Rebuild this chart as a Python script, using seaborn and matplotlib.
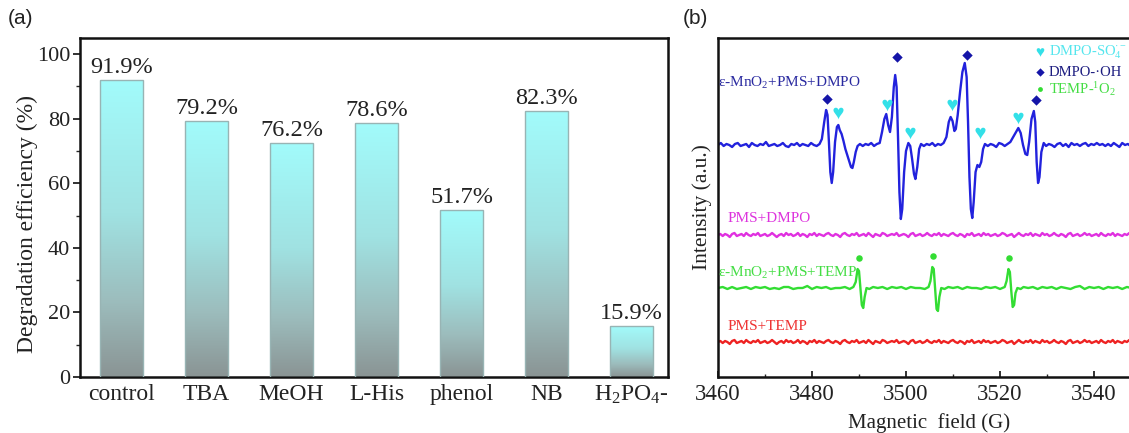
import numpy as np
import pandas as pd
import matplotlib
matplotlib.use("Agg")
import matplotlib.pyplot as plt
import seaborn as sns
from matplotlib.colors import LinearSegmentedColormap
from matplotlib.ticker import MultipleLocator

# ---------------- data: panel (a) ----------------
categories = ["control", "TBA", "MeOH", "L-His", "phenol", "NB", "H$_2$PO$_4$-"]
bar_values = [91.9, 79.2, 72.6, 78.6, 51.7, 82.3, 15.9]
bar_labels = ["91.9%", "79.2%", "76.2%", "78.6%", "51.7%", "82.3%", "15.9%"]

# ---------------- data: panel (b) (intensity in arbitrary units) ----------------
blue_x = [3460.0, 3460.6, 3461.2, 3461.8, 3462.4, 3463.0, 3463.6, 3464.2, 3464.8, 3465.4,
          3466.0, 3466.6, 3467.2, 3467.8, 3468.4, 3469.0, 3469.6, 3470.2, 3470.8, 3471.4,
          3472.0, 3472.6, 3473.2, 3473.8, 3474.4, 3475.0, 3475.6, 3476.2, 3476.8, 3477.4,
          3478.0, 3478.6, 3479.2, 3479.8, 3480.4, 3481.0, 3481.6, 3482.1, 3482.6, 3483.0,
          3483.3, 3483.6, 3483.9, 3484.2, 3484.5, 3484.9, 3485.3, 3485.6, 3485.9, 3486.3,
          3486.7, 3487.1, 3487.5, 3487.9, 3488.3, 3488.6, 3488.9, 3489.3, 3489.7, 3490.2,
          3490.8, 3491.4, 3492.0, 3492.6, 3493.2, 3493.8, 3494.4, 3494.9, 3495.4, 3495.8,
          3496.2, 3496.6, 3497.0, 3497.4, 3497.7, 3498.0, 3498.3, 3498.6, 3498.9, 3499.2,
          3499.6, 3500.0, 3500.5, 3500.9, 3501.3, 3501.7, 3502.0, 3502.4, 3502.8, 3503.2,
          3503.8, 3504.4, 3505.0, 3505.6, 3506.2, 3506.8, 3507.4, 3508.0, 3508.6, 3509.1,
          3509.5, 3509.9, 3510.3, 3510.6, 3511.0, 3511.5, 3512.0, 3512.5, 3512.9, 3513.2,
          3513.5, 3513.8, 3514.1, 3514.4, 3514.8, 3515.2, 3515.6, 3516.0, 3516.4, 3516.8,
          3517.4, 3518.0, 3518.6, 3519.2, 3519.8, 3520.4, 3521.0, 3521.6, 3522.2, 3522.8,
          3523.4, 3523.9, 3524.4, 3524.9, 3525.4, 3525.8, 3526.2, 3526.7, 3527.2, 3527.5,
          3527.8, 3528.1, 3528.4, 3528.8, 3529.3, 3529.8, 3530.4, 3531.0, 3531.6, 3532.2,
          3532.8, 3533.4, 3534.0, 3534.6, 3535.2, 3535.8, 3536.4, 3537.0, 3537.6, 3538.2,
          3538.8, 3539.4, 3540.0, 3540.6, 3541.2, 3541.8, 3542.4, 3543.0, 3543.6, 3544.2,
          3544.8, 3545.4, 3546.0, 3546.6, 3547.2, 3547.8, 3548.4, 3549.0, 3549.6]
blue_y = [232, 234, 231, 233, 232, 230, 233, 234, 231, 232,
          233, 230, 234, 232, 231, 233, 232, 235, 231, 232,
          233, 231, 232, 234, 231, 230, 233, 232, 234, 231,
          233, 232, 231, 234, 232, 231, 233, 238, 255, 267,
          262, 235, 205, 194, 205, 235, 250, 252, 247, 243,
          236, 228, 222, 216, 210, 209, 215, 225, 231, 233,
          231, 233, 232, 234, 231, 233, 234, 245, 258, 263,
          252, 245, 260, 290, 302, 290, 240, 185, 158, 168,
          205, 226, 234, 231, 218, 203, 198, 210, 228, 233,
          231, 233, 232, 234, 231, 233, 232, 234, 240, 255,
          260, 256, 246, 248, 262, 285, 305, 314, 300, 255,
          200, 168, 159, 175, 205, 212, 210, 215, 228, 233,
          231, 233, 232, 230, 234, 233, 231, 233, 235, 240,
          245, 249, 244, 232, 223, 222, 235, 258, 266, 255,
          215, 194, 200, 225, 234, 231, 233, 232, 230, 233,
          234, 231, 233, 230, 234, 232, 233, 231, 233, 234,
          231, 233, 232, 234, 232, 233, 231, 233, 231, 234,
          232, 230, 234, 232, 233, 231, 233, 232, 233]

magenta_y = [142, 143, 141, 143, 142, 140, 143, 144, 141, 142, 143, 141, 144, 142, 141, 143, 142, 144, 141, 142,
             143, 141, 142, 144, 142, 140, 142, 143, 141, 144, 142, 143, 141, 142, 144, 141, 143, 142, 140, 143,
             142, 144, 141, 143, 142, 141, 143, 144, 142, 141, 143, 142, 140, 143, 144, 142, 141, 143, 142, 144,
             141, 142, 143, 141, 144, 142, 140, 143, 142, 141, 144, 143, 141, 142, 143, 142, 144, 141, 142, 143,
             142, 140, 143, 144, 141, 142, 143, 141, 142, 144, 142, 141, 143, 142, 144, 141, 143, 142, 141, 143,
             144, 142, 141, 143, 142, 140, 143, 142, 144, 141, 142, 143, 141, 144, 142, 143, 141, 142, 143, 141,
             142, 144, 143, 141, 142, 143, 140, 142, 144, 142, 141, 143, 142, 144, 141, 143, 142, 141, 144, 142,
             143, 141, 142, 144, 142, 141, 143, 142, 140, 143, 144, 141, 142, 143, 141, 142, 144, 142, 143, 141,
             142, 143, 141, 144, 142, 141, 143, 142, 144, 141, 143, 142, 141, 143, 142, 144, 141, 142, 143, 142,
             141]

green_x = [3460, 3461, 3462, 3463, 3464, 3465, 3466, 3467, 3468, 3469, 3470, 3471, 3472,
           3473, 3474, 3475, 3476, 3477, 3478, 3479, 3480, 3481, 3482, 3483, 3484, 3485,
           3486, 3487, 3488, 3488.8, 3489.3, 3489.7, 3490.0, 3490.3, 3490.6, 3490.9, 3491.2,
           3491.6, 3492.2, 3493, 3494, 3495, 3496, 3497, 3498, 3499, 3500, 3501, 3502, 3503,
           3504, 3504.8, 3505.2, 3505.6, 3505.9, 3506.2, 3506.5, 3506.8, 3507.1, 3507.5,
           3508.2, 3509, 3510, 3511, 3512, 3513, 3514, 3515, 3516, 3517, 3518, 3519, 3520,
           3521, 3521.4, 3521.8, 3522.1, 3522.4, 3522.7, 3523.0, 3523.3, 3523.7, 3524.4,
           3525, 3526, 3527, 3528, 3529, 3530, 3531, 3532, 3533, 3534, 3535, 3536, 3537,
           3538, 3539, 3540, 3541, 3542, 3543, 3544, 3545, 3546, 3547, 3548, 3549, 3550]
green_y = [89, 90, 88, 90, 88, 89, 90, 88, 90, 89, 90, 88, 89,
           88, 90, 90, 88, 89, 89, 91, 88, 90, 89, 90, 88, 89,
           89, 90, 88, 90, 95, 108, 106, 89, 72, 69, 80,
           89, 88, 90, 89, 90, 88, 90, 89, 90, 88, 90, 89, 89,
           88, 90, 96, 110, 108, 88, 68, 66, 80, 89,
           88, 90, 89, 90, 88, 90, 89, 89, 88, 90, 89, 90, 88,
           90, 96, 108, 105, 86, 70, 72, 84, 89, 88,
           90, 89, 90, 88, 90, 89, 90, 88, 90, 89, 88, 90, 91,
           88, 90, 89, 90, 88, 90, 89, 90, 88, 90, 89, 90, 89]

red_y = [35, 36, 34, 36, 35, 33, 36, 37, 34, 35, 36, 34, 37, 35, 34, 36, 35, 37, 34, 35,
         36, 34, 35, 37, 35, 33, 35, 36, 34, 37, 35, 36, 34, 35, 37, 34, 36, 35, 33, 36,
         35, 37, 34, 36, 35, 34, 36, 37, 35, 34, 36, 35, 33, 36, 37, 35, 34, 36, 35, 37,
         34, 35, 36, 34, 37, 35, 33, 36, 35, 34, 37, 36, 34, 35, 36, 35, 37, 34, 35, 36,
         35, 33, 36, 37, 34, 35, 36, 34, 35, 37, 35, 34, 36, 35, 37, 34, 36, 35, 34, 36,
         37, 35, 34, 36, 35, 33, 36, 35, 37, 34, 35, 36, 34, 37, 35, 36, 34, 35, 36, 34,
         35, 37, 36, 34, 35, 36, 33, 35, 37, 35, 34, 36, 35, 37, 34, 36, 35, 34, 37, 35,
         36, 34, 35, 37, 35, 34, 36, 35, 33, 36, 37, 34, 35, 36, 34, 35, 37, 35, 36, 34,
         35, 36, 34, 37, 35, 34, 36, 35, 37, 34, 36, 35, 34, 36, 35, 37, 34, 35, 36, 35,
         34]

oh_x = [3483.1, 3498.0, 3512.9, 3527.6]
oh_y = [278, 320, 322, 277]
so4_x = [3485.6, 3495.9, 3500.9, 3509.7, 3515.7, 3523.9]
so4_y = [264, 272, 244, 272, 244, 259]
temp_x = [3490.0, 3505.8, 3521.9]
temp_y = [119, 121, 119]

# ---------------- style ----------------
sns.set_theme(style="ticks")
plt.rcParams["font.family"] = ["Liberation Serif", "DejaVu Serif"]
plt.rcParams["mathtext.fontset"] = "custom"
plt.rcParams["mathtext.rm"] = "Liberation Serif"
plt.rcParams["mathtext.it"] = "Liberation Serif:italic"
plt.rcParams["mathtext.default"] = "regular"

fig = plt.figure(figsize=(11.29, 4.33), dpi=100)
axa = fig.add_axes([80 / 1129, 56 / 433, 588 / 1129, 339 / 433])
axb = fig.add_axes([718 / 1129, 56 / 433, 423 / 1129, 339 / 433])

# ---------------- panel (a) ----------------
df = pd.DataFrame({"cat": categories, "val": bar_values})
sns.barplot(data=df, x="cat", y="val", ax=axa, width=0.5, color="#a0f0f0",
            edgecolor="#98b4b4", linewidth=1.0, zorder=2)

cmap = LinearSegmentedColormap.from_list(
    "cyg", [(0.0, "#8a9494"), (0.25, "#9cbcbc"), (0.55, "#a0e2e2"), (1.0, "#a2fbfb")])
grad = np.linspace(0, 1, 256).reshape(-1, 1)
for p in axa.patches:
    x0, y0 = p.get_x(), p.get_y()
    w, h = p.get_width(), p.get_height()
    im = axa.imshow(grad, extent=[x0, x0 + w, y0, y0 + h], origin="lower",
                    cmap=cmap, aspect="auto", zorder=2.5)
    im.set_clip_path(p)
    p.set_facecolor("none")
    p.set_zorder(3)

for i, (v, lab) in enumerate(zip(bar_values, bar_labels)):
    axa.text(i, v + 0.6, lab, ha="center", va="bottom", fontsize=17.5, color="#222222")

axa.set_xlim(-0.49, 6.43)
axa.set_ylim(0, 105)
axa.yaxis.set_major_locator(MultipleLocator(20))
axa.yaxis.set_minor_locator(MultipleLocator(10))
axa.tick_params(axis="y", which="major", direction="out", length=5, width=1.3,
                labelsize=16, pad=2, colors="#222222")
axa.tick_params(axis="y", which="minor", direction="out", length=3, width=1.0)
axa.tick_params(axis="x", length=0, labelsize=17, pad=5, colors="#222222")
axa.set_xlabel("")
axa.set_ylabel("Degradation efficiency (%)", fontsize=17, color="#222222")
axa.yaxis.set_label_coords(-0.072, 0.45)
for s in axa.spines.values():
    s.set_visible(True)
    s.set_linewidth(1.8)
    s.set_color("#111111")

# ---------------- panel (b) ----------------
mag_x = np.linspace(3460, 3550, len(magenta_y))
red_x = np.linspace(3460, 3550, len(red_y))
sns.lineplot(x=blue_x, y=blue_y, ax=axb, color="#2222dd", lw=1.7, sort=False, estimator=None)
sns.lineplot(x=mag_x, y=magenta_y, ax=axb, color="#e030e0", lw=1.7, sort=False, estimator=None)
sns.lineplot(x=green_x, y=green_y, ax=axb, color="#33dd33", lw=1.7, sort=False, estimator=None)
sns.lineplot(x=red_x, y=red_y, ax=axb, color="#ee2222", lw=1.7, sort=False, estimator=None)

axb.scatter(oh_x, oh_y, marker="D", s=28, color="#1515a8", zorder=5, linewidths=0)
axb.scatter(so4_x, so4_y, marker="$\u2665$", s=70, color="#33e0e8", zorder=5, linewidths=0)
axb.scatter(temp_x, temp_y, marker="o", s=22, color="#33dd33", zorder=5, linewidths=0)

# legend (manual, top-right)
axb.scatter([3528.6], [325], marker="$\u2665$", s=40, color="#33e0e8", clip_on=False, linewidths=0)
axb.scatter([3528.6], [305], marker="D", s=18, color="#1515a8", clip_on=False, linewidths=0)
axb.scatter([3528.6], [288], marker="o", s=12, color="#33dd33", clip_on=False, linewidths=0)
axb.text(3530.4, 325, "DMPO-SO$_4^{\u00b7-}$", color="#55e6ee", fontsize=10.5, va="center", ha="left")
axb.text(3530.4, 305, "DMPO-\u00b7OH", color="#1c1c80", fontsize=10.5, va="center", ha="left")
axb.text(3530.4, 288, "TEMP-$^1$O$_2$", color="#44dd44", fontsize=10.5, va="center", ha="left")

# trace labels
axb.text(3460.1, 294, "\u03b5-MnO$_2$+PMS+DMPO", color="#2a2aa0", fontsize=11, va="center", ha="left")
axb.text(3462.0, 159, "PMS+DMPO", color="#dd33dd", fontsize=11, va="center", ha="left")
axb.text(3460.1, 104, "\u03b5-MnO$_2$+PMS+TEMP", color="#44dd44", fontsize=11, va="center", ha="left")
axb.text(3462.0, 51, "PMS+TEMP", color="#ee3333", fontsize=11, va="center", ha="left")

axb.set_xlim(3460, 3550)
axb.set_ylim(0, 339)
axb.set_yticks([])
axb.xaxis.set_major_locator(MultipleLocator(20))
axb.xaxis.set_minor_locator(MultipleLocator(10))
axb.tick_params(axis="x", which="major", direction="in", length=4, width=1.3,
                labelsize=16.5, pad=5, colors="#222222")
axb.tick_params(axis="x", which="minor", direction="in", length=2.5, width=1.0)
axb.set_xlabel("Magnetic  field (G)", fontsize=15, labelpad=6, color="#222222")
axb.set_ylabel("Intensity (a.u.)", fontsize=15.5, labelpad=4, color="#222222")
for s in axb.spines.values():
    s.set_visible(True)
    s.set_linewidth(1.8)
    s.set_color("#111111")

fig.text(8 / 1129, 1 - 18 / 433, "(a)", family=["Liberation Sans", "DejaVu Sans"],
         fontsize=15, va="center", ha="left", color="#222222")
fig.text(683 / 1129, 1 - 18 / 433, "(b)", family=["Liberation Sans", "DejaVu Sans"],
         fontsize=15, va="center", ha="left", color="#222222")

fig.savefig("out.png", dpi=100, facecolor="white")
